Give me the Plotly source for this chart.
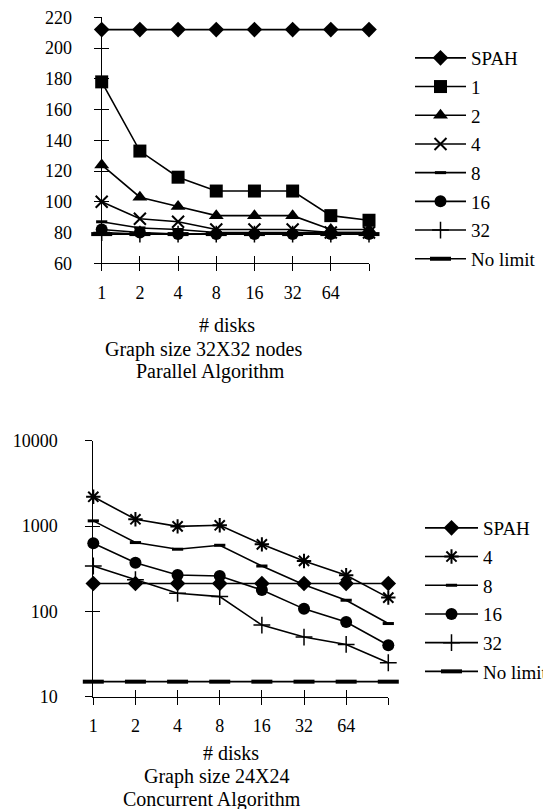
import plotly.graph_objects as go

# Disk counts on the x axis (last position has no label)
disks = ["1", "2", "4", "8", "16", "32", "64", ""]
xpos = list(range(len(disks)))

# Parallel algorithm, 32X32 graph
par_spah = [212, 212, 212, 212, 212, 212, 212, 212]
par_1 = [178, 133, 116, 107, 107, 107, 91, 88]
par_2 = [124, 103, 97, 91, 91, 91, 82, 82]
par_4 = [100, 89, 87, 82, 82, 82, 80, 80]
par_8 = [87, 83, 82, 80, 80, 80, 80, 80]
par_16 = [82, 80, 79, 79, 79, 79, 79, 79]
par_32 = [80, 79, 79, 79, 79, 79, 79, 79]
par_nolimit = [79, 79, 79, 79, 79, 79, 79, 79]

# Concurrent algorithm, 24X24 graph
con_spah = [212, 212, 212, 212, 212, 212, 212, 212]
con_4 = [2200, 1200, 990, 1020, 610, 390, 265, 145]
con_8 = [1150, 640, 535, 595, 340, 205, 135, 72]
con_16 = [630, 372, 267, 260, 178, 107, 75, 40]
con_32 = [340, 235, 163, 149, 69, 50, 41, 25]
con_nolimit = [15, 15, 15, 15, 15, 15, 15, 15]

par_yticks = [60, 80, 100, 120, 140, 160, 180, 200, 220]
con_yticks = [10, 100, 1000, 10000]

W, H = 543, 809
FONT = "Liberation Serif"
FS_TICK = 18
FS_LEG = 19
FS_CAP = 20


def px_x(v):
    return v / W


def px_y(v):
    return 1 - v / H


marker_styles = {
    "SPAH": dict(symbol="diamond", size=12, color="black"),
    "1": dict(symbol="square", size=13, color="black"),
    "2": dict(symbol="triangle-up", size=13, color="black"),
    "4x": dict(symbol="x-thin-open", size=12, color="black", line=dict(width=2, color="black")),
    "4a": dict(symbol="asterisk-open", size=12, color="black", line=dict(width=2, color="black")),
    "8": dict(symbol="line-ew-open", size=8, color="black", line=dict(width=3, color="black")),
    "16": dict(symbol="circle", size=12, color="black"),
    "32": dict(symbol="cross-thin-open", size=12, color="black", line=dict(width=1.5, color="black")),
    "No limit": dict(symbol="line-ew-open", size=15, color="black", line=dict(width=4, color="black")),
}

fig = go.Figure()

top_series = [
    ("SPAH", par_spah, "SPAH"),
    ("1", par_1, "1"),
    ("2", par_2, "2"),
    ("4", par_4, "4x"),
    ("8", par_8, "8"),
    ("16", par_16, "16"),
    ("32", par_32, "32"),
    ("No limit", par_nolimit, "No limit"),
]
for i, (name, vals, mk) in enumerate(top_series):
    fig.add_trace(go.Scatter(
        x=xpos, y=vals, name=name, mode="lines+markers",
        line=dict(color="black", width=1.6),
        marker=marker_styles[mk], cliponaxis=False,
        xaxis="x", yaxis="y", legend="legend", legendgroup="p%d" % i,
    ))

bot_series = [
    ("SPAH", con_spah, "SPAH"),
    ("4", con_4, "4a"),
    ("8", con_8, "8"),
    ("16", con_16, "16"),
    ("32", con_32, "32"),
    ("No limit", con_nolimit, "No limit"),
]
for i, (name, vals, mk) in enumerate(bot_series):
    fig.add_trace(go.Scatter(
        x=xpos, y=vals, name=name, mode="lines+markers",
        line=dict(color="black", width=1.6),
        marker=marker_styles[mk], cliponaxis=False,
        xaxis="x2", yaxis="y2", legend="legend2", legendgroup="c%d" % i,
    ))

# empty traces that carry the inner half of the crossing tick marks
for xa, ya in [("x3", "y"), ("x", "y3"), ("x4", "y2"), ("x2", "y4")]:
    fig.add_trace(go.Scatter(x=[], y=[], xaxis=xa, yaxis=ya, showlegend=False, hoverinfo="skip"))

top_xdom = [px_x(101.7), px_x(369)]
top_ydom = [px_y(263.3), px_y(17.3)]
bot_xdom = [px_x(93.3), px_x(388.3)]
bot_ydom = [px_y(696.7), px_y(440.7)]

tickfont = dict(family=FONT, size=FS_TICK, color="black")
legfont = dict(family=FONT, size=FS_LEG, color="black")
common_x = dict(range=[0, len(disks) - 1], tickmode="array", tickvals=xpos,
                showgrid=False, zeroline=False, ticklen=7, tickwidth=1, tickcolor="black")

fig.update_layout(
    width=W, height=H,
    margin=dict(l=0, r=0, t=0, b=0, autoexpand=False),
    paper_bgcolor="white", plot_bgcolor="white",
    font=dict(family=FONT, size=FS_TICK, color="black"),
    xaxis=dict(domain=top_xdom, anchor="y", ticktext=disks, ticks="outside",
               showline=True, linecolor="black", linewidth=1, tickfont=tickfont,
               ticklabelstandoff=6, **common_x),
    yaxis=dict(domain=top_ydom, anchor="x", range=[60, 220], tickmode="array",
               tickvals=par_yticks, ticks="outside", ticklen=7, tickwidth=1, tickcolor="black",
               showline=True, linecolor="black", linewidth=1, showgrid=False, zeroline=False,
               tickfont=tickfont, ticklabelstandoff=18),
    xaxis3=dict(overlaying="x", anchor="y", ticks="inside", showticklabels=False,
                showline=False, **common_x),
    yaxis3=dict(overlaying="y", anchor="x", range=[60, 220], tickmode="array",
                tickvals=par_yticks, ticks="inside", ticklen=7, tickwidth=1, tickcolor="black",
                showticklabels=False, showline=False, showgrid=False, zeroline=False),
    xaxis2=dict(domain=bot_xdom, anchor="y2", ticktext=disks, ticks="outside",
                showline=True, linecolor="black", linewidth=1, tickfont=tickfont,
                ticklabelstandoff=6, **common_x),
    yaxis2=dict(domain=bot_ydom, anchor="x2", type="log", range=[1, 4], tickmode="array",
                tickvals=con_yticks, ticktext=[str(v) for v in con_yticks],
                ticks="outside", ticklen=7, tickwidth=1, tickcolor="black",
                showline=True, linecolor="black", linewidth=1, showgrid=False, zeroline=False,
                tickfont=tickfont, ticklabelstandoff=24),
    xaxis4=dict(overlaying="x2", anchor="y2", ticks="inside", showticklabels=False,
                showline=False, **common_x),
    yaxis4=dict(overlaying="y2", anchor="x2", type="log", range=[1, 4], tickmode="array",
                tickvals=con_yticks, ticks="inside", ticklen=7, tickwidth=1, tickcolor="black",
                showticklabels=False, showline=False, showgrid=False, zeroline=False),
    legend=dict(x=px_x(410), y=px_y(39), xanchor="left", yanchor="top",
                bgcolor="rgba(0,0,0,0)", tracegroupgap=1, itemwidth=51, font=legfont),
    legend2=dict(x=px_x(420), y=px_y(509), xanchor="left", yanchor="top",
                 bgcolor="rgba(0,0,0,0)", tracegroupgap=1, itemwidth=53, font=legfont),
    showlegend=True,
)

captions = [
    ("# disks", 226.7, 325),
    ("Graph size 32X32 nodes", 203.3, 350),
    ("Parallel Algorithm", 210.8, 371.7),
    ("# disks", 230.8, 753.3),
    ("Graph size 24X24", 216.7, 776),
    ("Concurrent Algorithm", 211.7, 799.3),
]
for text, cx, cy in captions:
    fig.add_annotation(text=text, x=px_x(cx), y=px_y(cy), xref="paper", yref="paper",
                       xanchor="center", yanchor="middle", showarrow=False,
                       font=dict(family=FONT, size=FS_CAP, color="black"))

fig.write_html("out.html")
